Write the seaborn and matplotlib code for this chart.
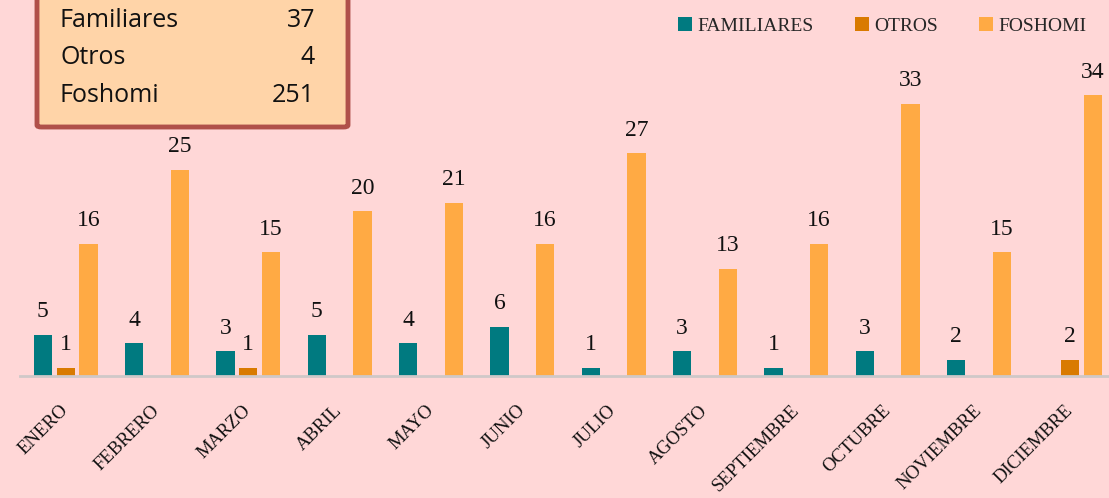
import matplotlib
matplotlib.use("Agg")
import matplotlib.pyplot as plt
import matplotlib.patches as mpatches
import seaborn as sns
import pandas as pd

meses = ["ENERO", "FEBRERO", "MARZO", "ABRIL", "MAYO", "JUNIO", "JULIO",
         "AGOSTO", "SEPTIEMBRE", "OCTUBRE", "NOVIEMBRE", "DICIEMBRE"]
familiares = [5, 4, 3, 5, 4, 6, 1, 3, 1, 3, 2, 0]
otros = [1, 0, 1, 0, 0, 0, 0, 0, 0, 0, 0, 2]
foshomi = [16, 25, 15, 20, 21, 16, 27, 13, 16, 33, 15, 34]
series_names = ["FAMILIARES", "OTROS", "FOSHOMI"]
totales_labels = ["Familiares", "Otros", "Foshomi"]
totales = [37, 4, 251]

colors = ["#007A80", "#D97A00", "#FFAA44"]
bg = "#FFD7D7"

rows = []
for name, vals in zip(series_names, [familiares, otros, foshomi]):
    for m, v in zip(meses, vals):
        rows.append({"mes": m, "serie": name, "valor": v})
df = pd.DataFrame(rows)

sns.set_theme(style="white")
plt.rcParams["font.family"] = ["Liberation Serif", "DejaVu Serif"]

W, H = 1109, 498
fig = plt.figure(figsize=(W / 100, H / 100), dpi=100, facecolor=bg)
ax = fig.add_axes([20 / W, 122 / H, 1096 / W, 330 / H])
ax.set_facecolor(bg)

sns.barplot(data=df, x="mes", y="valor", hue="serie", order=meses,
            hue_order=series_names, palette=colors, width=0.75, gap=0.2,
            linewidth=0, saturation=1, ax=ax)

ax.set_xlim(-0.5, 11.5)
ax.set_ylim(0, 40)
for s in ["top", "left", "right"]:
    ax.spines[s].set_visible(False)
ax.spines["bottom"].set_color("#CFC8C8")
ax.spines["bottom"].set_linewidth(2)
ax.set_yticks([])
ax.set_xlabel("")
ax.set_ylabel("")

for cont in ax.containers:
    labels = [f"{int(b.get_height())}" if b.get_height() > 0 else "" for b in cont]
    ax.bar_label(cont, labels=labels, padding=9, fontsize=17, color="#111111")

ax.tick_params(axis="x", length=0, pad=23)
for lab in ax.get_xticklabels():
    lab.set_rotation(45)
    lab.set_ha("right")
    lab.set_va("center")
    lab.set_rotation_mode("anchor")
    lab.set_fontsize(13.5)
    lab.set_color("#111111")

handles, lbls = ax.get_legend_handles_labels()
ax.legend(handles, lbls, loc="upper right", bbox_to_anchor=(1104 / W, 1.0),
          bbox_transform=fig.transFigure, ncol=3, frameon=False,
          handlelength=0.7, handleheight=0.7, handletextpad=0.3,
          columnspacing=2.1, fontsize=14)

# summary box
box = mpatches.FancyBboxPatch((37 / W, (H - 127) / H), 311 / W, 0.4,
                              boxstyle="round,pad=0,rounding_size=0.004",
                              transform=fig.transFigure, facecolor="#FFD4A8",
                              edgecolor="#B0504A", linewidth=3.5, zorder=5)
fig.patches.append(box)
ys = [20, 57, 95]
for lab, val, y in zip(totales_labels, totales, ys):
    fig.text(60 / W, 1 - y / H, lab, ha="left", va="center", fontsize=18,
             family=["Open Sans", "DejaVu Sans"], color="#111111", zorder=6)
    fig.text(315 / W, 1 - y / H, str(val), ha="right", va="center", fontsize=18,
             family=["Open Sans", "DejaVu Sans"], color="#111111", zorder=6)

fig.savefig("out.png", dpi=100, facecolor=bg)
